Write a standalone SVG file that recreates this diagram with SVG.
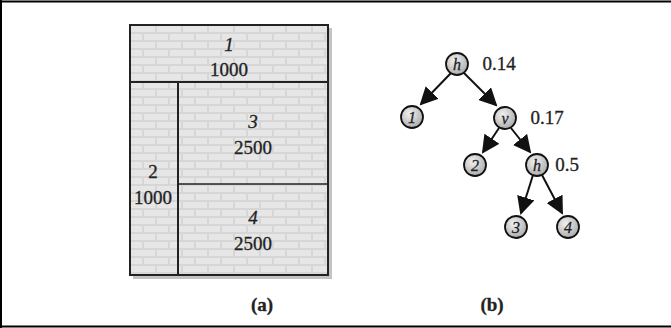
<svg xmlns="http://www.w3.org/2000/svg" width="671" height="328" viewBox="0 0 671 328">
<style>
.t{font-family:"Liberation Serif",serif;font-size:19px;fill:#222;text-anchor:middle;stroke:#222;stroke-width:0.3}
.i{font-style:italic}
.s{font-size:16px}
.n{fill:url(#g);stroke:#111;stroke-width:1.8}
.e{stroke:#111;stroke-width:2;fill:none;marker-end:url(#ah)}
.w{stroke:#222;stroke-width:2;fill:none}
</style>
<defs>
<pattern id="brick" width="26" height="16" patternUnits="userSpaceOnUse" x="130" y="25">
<rect width="26" height="16" fill="#d6d6d6"/>
<rect x="1" y="1" width="24" height="6" fill="#e6e6e6"/>
<rect x="-12" y="9" width="24" height="6" fill="#e6e6e6"/>
<rect x="14" y="9" width="24" height="6" fill="#e6e6e6"/>
</pattern>
<radialGradient id="g" cx="0.4" cy="0.35" r="0.7">
<stop offset="0" stop-color="#f2f2f2"/>
<stop offset="1" stop-color="#a8a8a8"/>
</radialGradient>
<marker id="ah" markerWidth="9" markerHeight="9" refX="8" refY="4.5" orient="auto" markerUnits="strokeWidth">
<path d="M0,0 L9,4.5 L0,9 Z" fill="#111"/>
</marker>
</defs>
<rect width="671" height="328" fill="#fff"/>
<path d="M0,1.5 H671 M1,0 V328 M0,326.5 H671" stroke="#000" stroke-width="2" fill="none"/>
<g id="layout">
<rect x="133" y="28" width="199" height="251" fill="#888" opacity="0.5"/>
<rect x="130" y="25" width="198" height="250" fill="url(#brick)" stroke="#222" stroke-width="2"/>
<line class="w" x1="130" y1="82" x2="328" y2="82"/>
<line class="w" x1="178" y1="82" x2="178" y2="275"/>
<line stroke="#222" stroke-width="1.3" x1="178" y1="184" x2="328" y2="184"/>
</g>
<g id="r1"><text class="t i" x="229" y="51">1</text><text class="t" x="229" y="76">1000</text></g>
<g id="r3"><text class="t i" x="253" y="128">3</text><text class="t" x="253" y="154">2500</text></g>
<g id="r2"><text class="t" x="153" y="178">2</text><text class="t" x="153" y="204">1000</text></g>
<g id="r4"><text class="t i" x="253" y="224">4</text><text class="t" x="253" y="250">2500</text></g>
<g id="connectors">
<line class="e" x1="451" y1="73" x2="421" y2="104"/>
<line class="e" x1="464" y1="73" x2="496" y2="105"/>
<line class="e" x1="499" y1="128" x2="483" y2="152"/>
<line class="e" x1="511" y1="128" x2="530" y2="152"/>
<line class="e" x1="533" y1="175" x2="521" y2="213"/>
<line class="e" x1="542" y1="175" x2="562" y2="213"/>
</g>
<g id="n0"><circle class="n" cx="457" cy="64" r="11"/><text class="t i s" x="457" y="70">h</text><text class="t" x="499" y="70">0.14</text></g>
<g id="n1"><circle class="n" cx="412" cy="117" r="11"/><text class="t i s" x="412" y="123">1</text></g>
<g id="n2"><circle class="n" cx="505" cy="118" r="11"/><text class="t i s" x="505" y="124">v</text><text class="t" x="547" y="124">0.17</text></g>
<g id="n3"><circle class="n" cx="475" cy="165" r="11"/><text class="t i s" x="475" y="171">2</text></g>
<g id="n4"><circle class="n" cx="537" cy="165" r="11"/><text class="t i s" x="537" y="171">h</text><text class="t" x="567" y="171">0.5</text></g>
<g id="n5"><circle class="n" cx="516" cy="227" r="11"/><text class="t i s" x="516" y="233">3</text></g>
<g id="n6"><circle class="n" cx="568" cy="227" r="11"/><text class="t i s" x="568" y="233">4</text></g>
<g id="labels"><text class="t" x="262" y="311" style="font-weight:bold">(a)</text><text class="t" x="492" y="311" style="font-weight:bold">(b)</text></g>
</svg>
